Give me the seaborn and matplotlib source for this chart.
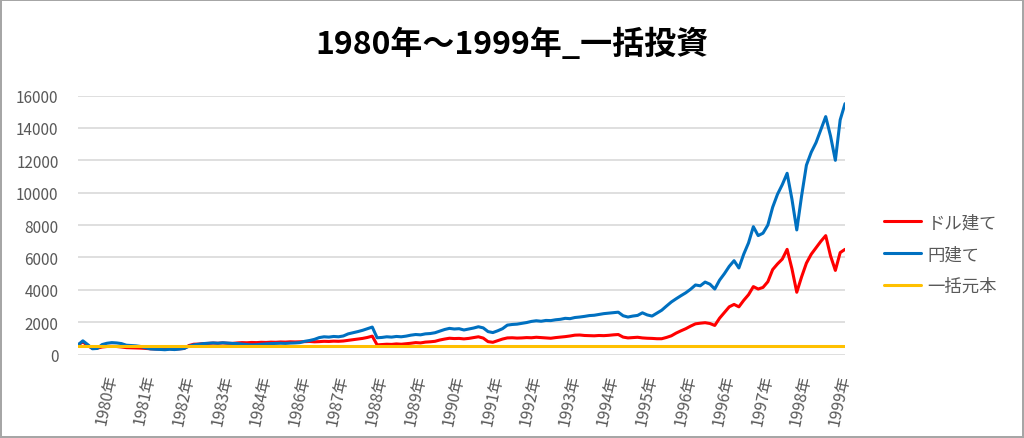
import numpy as np
import pandas as pd
import matplotlib
matplotlib.use("Agg")
import matplotlib.pyplot as plt
import seaborn as sns

# values (one point every ~1/8 of a label step)
dollar = [600, 780, 560, 380, 400, 470, 500, 510, 500, 470,
          430, 420, 410, 400, 380, 360, 350, 340, 340, 360,
          340, 360, 380, 560, 640, 650, 680, 690, 710, 700,
          720, 700, 690, 720, 740, 730, 750, 740, 760, 750,
          770, 760, 780, 770, 790, 780, 790, 800, 810, 790,
          800, 820, 810, 830, 820, 840, 880, 920, 960, 1000,
          1060, 1140, 600, 620, 640, 630, 660, 640, 670, 700,
          740, 720, 770, 790, 820, 900, 960, 1010, 990, 1000,
          970, 1000, 1050, 1100, 1020, 800, 760, 860, 960, 1030,
          1040, 1020, 1030, 1050, 1040, 1070, 1050, 1030, 1010, 1050,
          1080, 1110, 1150, 1200, 1210, 1180, 1170, 1160, 1180, 1170,
          1190, 1220, 1240, 1080, 1030, 1050, 1070, 1030, 1010, 1000,
          980, 980, 1060, 1160, 1330, 1470, 1600, 1760, 1900, 1940,
          1970, 1920, 1800, 2250, 2600, 2950, 3100, 2950, 3350, 3700,
          4200, 4050, 4150, 4500, 5250, 5600, 5900, 6500, 5300, 3850,
          4800, 5650, 6200, 6600, 7000, 7350, 6100, 5200, 6300, 6500]

yen = [600, 850, 620, 360, 380, 620, 700, 740, 720, 680,
       580, 560, 540, 500, 420, 350, 330, 320, 300, 330,
       310, 340, 380, 520, 600, 640, 680, 700, 720, 700,
       730, 710, 690, 680, 650, 620, 600, 610, 640, 660,
       680, 690, 700, 690, 710, 720, 740, 820, 870, 940,
       1050, 1100, 1080, 1120, 1100, 1150, 1280, 1350, 1420, 1500,
       1600, 1700, 1040, 1060, 1100, 1080, 1120, 1100, 1140, 1200,
       1240, 1220, 1280, 1300, 1350, 1450, 1550, 1620, 1580, 1600,
       1520, 1580, 1640, 1720, 1650, 1420, 1360, 1470, 1600, 1820,
       1860, 1880, 1930, 1980, 2050, 2090, 2060, 2110, 2100, 2150,
       2180, 2240, 2220, 2290, 2320, 2360, 2410, 2430, 2480, 2530,
       2560, 2590, 2620, 2400, 2320, 2380, 2420, 2580, 2450, 2380,
       2560, 2740, 3000, 3250, 3450, 3640, 3820, 4040, 4300, 4250,
       4480, 4350, 4050, 4600, 5000, 5450, 5800, 5350, 6200, 6900,
       7900, 7350, 7500, 8000, 9100, 9900, 10500, 11200, 9600, 7700,
       9800, 11700, 12500, 13100, 13900, 14700, 13500, 12000, 14500, 15500]

principal = [500] * len(yen)

tick_labels = ["1980年", "1981年", "1982年", "1983年", "1984年", "1986年",
               "1987年", "1988年", "1989年", "1990年", "1991年", "1992年",
               "1993年", "1994年", "1995年", "1996年", "1996年", "1997年",
               "1998年", "1999年"]
first_tick = 7
tick_step = 8

series_names = ["ドル建て", "円建て", "一括元本"]
colors = ["#FF0000", "#0070C0", "#FFC000"]

n = len(yen)
df = pd.DataFrame({
    "idx": np.tile(np.arange(n), 3),
    "value": dollar + yen + principal,
    "series": np.repeat(series_names, n),
})

sns.set_theme(style="white")
plt.rcParams["font.family"] = ["Noto Sans CJK JP", "DejaVu Sans"]

fig = plt.figure(figsize=(10.24, 4.39), dpi=100)
ax = fig.add_axes([0.0762, 0.190, 0.749, 0.590])

sns.lineplot(data=df, x="idx", y="value", hue="series", hue_order=series_names,
             palette=colors, linewidth=2.2, ax=ax, legend=False)

ax.set_xlim(0, n - 1)
ax.set_ylim(0, 16000)
ax.set_yticks(range(0, 16001, 2000))
ax.yaxis.grid(True, color="#d9d9d9", linewidth=1.2)
ax.set_axisbelow(True)
for s in ax.spines.values():
    s.set_visible(False)

ticks = [first_tick + tick_step * k for k in range(len(tick_labels))]
ax.set_xticks(ticks)
ax.set_xticklabels(tick_labels, rotation=78, ha="right", va="center",
                   rotation_mode="anchor", fontsize=11.5, color="#595959")
ax.tick_params(axis="x", length=0, pad=14)
ax.tick_params(axis="y", length=0, pad=14, labelsize=11, labelcolor="#595959")
ax.set_xlabel("")
ax.set_ylabel("")

fig.text(0.5, 0.897, "1980年～1999年_一括投資", ha="center", va="center",
         fontsize=23, fontweight="bold", color="black")

handles = [plt.Line2D([], [], color=c, linewidth=2.2) for c in colors]
fig.legend(handles, series_names, loc="center left", bbox_to_anchor=(0.855, 0.419),
           frameon=False, fontsize=12.5, labelcolor="#595959", handlelength=2.1,
           handletextpad=0.4, labelspacing=0.8, borderpad=0)

fig.patch.set_edgecolor("#a6a6a6")
fig.patch.set_linewidth(1.5)
fig.savefig("out.png", dpi=100, facecolor="white", edgecolor=fig.get_edgecolor())
